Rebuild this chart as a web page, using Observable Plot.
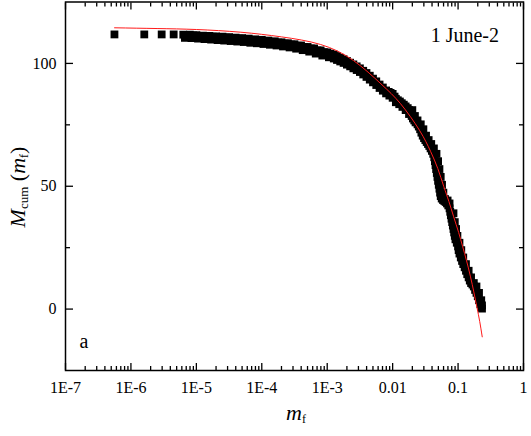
<!DOCTYPE html>
<html><head><meta charset="utf-8">
<script src="https://cdn.jsdelivr.net/npm/d3@7"></script>
<script src="https://cdn.jsdelivr.net/npm/@observablehq/plot@0.6"></script>
<style>body{margin:0;background:#fff}</style>
</head><body><div id="chart"></div>
<script>
// fragment masses m_f and cumulative mass M_cum(m_f)
const mf = [5.6e-7,1.6e-6,2.95e-6,4.5e-6,
6.31e-6,7.08e-6,7.94e-6,8.91e-6,1.0e-5,1.12e-5,1.26e-5,1.41e-5,1.58e-5,1.78e-5,2.0e-5,2.24e-5,2.51e-5,2.82e-5,3.16e-5,3.55e-5,3.98e-5,4.47e-5,5.01e-5,5.62e-5,6.31e-5,7.08e-5,7.94e-5,8.91e-5,
1.0e-4,1.12e-4,1.26e-4,1.41e-4,1.58e-4,1.78e-4,2.0e-4,2.24e-4,2.51e-4,2.82e-4,3.16e-4,3.55e-4,3.98e-4,4.47e-4,5.01e-4,5.62e-4,6.31e-4,7.08e-4,7.94e-4,8.91e-4,
1.0e-3,1.12e-3,1.26e-3,1.41e-3,1.58e-3,1.78e-3,2.0e-3,2.24e-3,2.51e-3,2.82e-3,3.16e-3,3.55e-3,3.98e-3,4.47e-3,5.01e-3,5.62e-3,6.31e-3,7.08e-3,7.94e-3,8.7e-3,9.3e-3,
1.0e-2,1.07e-2,1.12e-2,1.2e-2,1.29e-2,1.38e-2,1.48e-2,1.58e-2,1.7e-2,1.78e-2,1.86e-2,1.95e-2,2.04e-2,2.14e-2,2.24e-2,2.4e-2,
2.51e-2,2.63e-2,2.75e-2,2.88e-2,3.02e-2,3.16e-2,3.31e-2,3.47e-2,3.63e-2,3.8e-2,3.98e-2,4.17e-2,4.32e-2,4.42e-2,4.52e-2,4.62e-2,4.73e-2,4.84e-2,4.95e-2,5.07e-2,5.19e-2,5.31e-2,5.43e-2,5.62e-2,5.89e-2,6.17e-2,6.46e-2,6.76e-2,
7.08e-2,7.41e-2,7.59e-2,7.76e-2,7.94e-2,8.13e-2,8.32e-2,8.51e-2,8.71e-2,8.91e-2,9.12e-2,9.55e-2,
0.100,0.102,0.105,0.110,0.115,0.120,0.126,0.132,0.138,0.145,0.151,0.158,0.166,0.174,0.182,0.191,0.200,0.209,0.219,0.226,0.232,
// lower / right side of the band
6.68e-6,8.41e-6,1.06e-5,1.33e-5,1.68e-5,2.11e-5,2.66e-5,3.35e-5,4.22e-5,5.31e-5,6.68e-5,8.41e-5,
1.06e-4,1.33e-4,1.68e-4,2.11e-4,2.66e-4,3.35e-4,4.22e-4,5.31e-4,6.68e-4,8.41e-4,
1.06e-3,1.26e-3,1.41e-3,1.58e-3,1.78e-3,2.0e-3,2.24e-3,2.51e-3,2.82e-3,3.16e-3,3.55e-3,3.98e-3,4.47e-3,5.01e-3,5.62e-3,6.31e-3,7.08e-3,7.94e-3,8.91e-3,
1.0e-2,1.12e-2,1.26e-2,1.41e-2,1.58e-2,1.78e-2,2.0e-2,2.19e-2,2.4e-2,2.69e-2,2.95e-2,3.24e-2,3.55e-2,3.89e-2,4.27e-2,4.68e-2,4.95e-2,5.19e-2,5.43e-2,5.69e-2,5.96e-2,6.31e-2,6.92e-2,7.41e-2,
8.51e-2,8.91e-2,9.33e-2,9.77e-2,0.105,0.112,0.120,0.132,0.145,0.158,0.174,0.191,0.209,0.226,0.232];
const Mcum = [111.8,111.8,111.8,111.8,
111.7,111.5,111.7,111.4,111.5,111.2,111.3,111.0,111.2,110.9,111.0,110.7,110.9,110.5,110.7,110.3,110.5,110.1,110.3,109.9,110.1,109.6,109.8,109.4,
109.6,109.1,109.3,108.8,109.0,108.5,108.6,108.1,108.2,107.7,107.8,107.2,107.3,106.7,106.7,106.1,106.1,105.3,105.3,104.6,
104.5,104.0,103.6,103.0,102.3,101.7,101.0,100.3,99.6,98.8,98.0,97.0,96.1,95.0,93.8,92.7,91.4,90.2,89.0,88.4,88.0,
87.6,86.5,85.6,85.0,84.5,83.8,83.2,82.5,81.8,81.0,79.8,78.6,77.6,76.8,76.0,75.2,
74.3,73.2,71.8,70.6,69.6,68.8,68.0,67.2,66.4,65.4,64.4,63.2,61.8,60.2,58.6,57.0,55.4,53.8,52.2,50.6,49.0,47.4,46.0,45.0,44.4,44.0,43.6,43.0,
42.2,41.0,39.6,38.2,36.8,35.4,34.0,32.6,31.2,29.8,28.4,27.0,
25.5,24.0,22.6,21.0,19.6,18.3,17.0,15.6,14.2,12.9,11.6,10.6,10.0,9.2,7.8,6.6,5.2,3.6,2.0,0.9,0.2,
// lower / right side of the band
110.4,110.3,110.1,109.9,109.7,109.5,109.3,109.1,108.9,108.7,108.4,108.2,
107.9,107.6,107.3,106.9,106.5,106.0,105.4,104.8,104.0,103.2,
102.5,102.0,101.4,100.8,100.2,99.5,98.8,98.0,97.3,96.5,95.5,94.5,93.4,92.3,91.2,90.0,88.9,87.8,86.9,
86.0,84.2,83.4,82.3,81.0,79.4,81.0,78.6,76.8,75.2,73.2,70.6,68.8,67.2,65.4,63.2,60.2,57.0,53.8,50.6,47.4,44.8,44.2,43.0,
39.0,35.4,32.6,29.8,27.0,24.0,21.0,18.3,15.6,12.9,10.6,9.2,6.6,3.6,1.5];

// fitted curve (red)
const fitMf = [5.62e-7,2.51e-6,1.0e-5,4.79e-5,2.0e-4,7.94e-4,2.51e-3,6.61e-3,0.0132,0.0257,0.038,0.049,0.0603,0.0724,0.0851,0.102,0.117,0.135,0.155,0.174,0.195,0.214,0.234];
const fitM  = [114.5,114.2,113.8,112.7,110.8,107.7,101.2,91.7,83.6,72.8,64.2,57.2,50.0,43.8,37.8,31.2,25.6,19.6,13.1,7.0,0.5,-5.0,-11.3];

// axes
const xMajor = [1e-7,1e-6,1e-5,1e-4,1e-3,1e-2,1e-1,1];
const xMajorLabels = ["1E-7","1E-6","1E-5","1E-4","1E-3","0.01","0.1","1"];
const yMajor = [0,50,100];
const yMinor = [25,75];

const xMinor = d3.range(-7,0).flatMap(e => d3.range(2,10).map(k => k*Math.pow(10,e)));
const labelMap = new Map(xMajor.map((d,i)=>[d, xMajorLabels[i]]));

const points = mf.map((x,i)=>({x, y:Mcum[i]}));
const fit = fitMf.map((x,i)=>({x, y:fitM[i]}));

const font = "'Liberation Serif', 'Times New Roman', serif";
const plot = Plot.plot({
  width: 531, height: 436,
  marginLeft: 65, marginRight: 8, marginTop: 1.5, marginBottom: 66,
  style: {fontFamily: font, fontSize: "16px", color: "#000", background: "#fff", overflow: "visible"},
  x: {type: "log", domain: [1e-7, 1]},
  y: {domain: [-25, 125]},
  marks: [
    Plot.dot(points, {x: "x", y: "y", symbol: "square", r: 4.4, fill: "#000", stroke: null}),
    Plot.line(fit, {x: "x", y: "y", stroke: "#ff1a1a", strokeWidth: 1, curve: "natural"}),
    Plot.frame({stroke: "#000", strokeWidth: 1.5}),
    Plot.axisX(xMajor, {anchor: "bottom", tickSize: -7, text: null, label: null, strokeWidth: 1.3}),
    Plot.axisX(xMajor, {anchor: "top", tickSize: -7, text: null, label: null, strokeWidth: 1.3}),
    Plot.axisX(xMinor, {anchor: "bottom", tickSize: -4, text: null, label: null, strokeWidth: 1.3}),
    Plot.axisX(xMinor, {anchor: "top", tickSize: -4, text: null, label: null, strokeWidth: 1.3}),
    Plot.axisX(xMajor, {anchor: "bottom", tickSize: 0, tickPadding: 11, tickFormat: d => labelMap.get(d), label: null}),
    Plot.axisY(yMajor, {anchor: "left", tickSize: -8, text: null, label: null, strokeWidth: 1.3}),
    Plot.axisY(yMajor, {anchor: "right", tickSize: -8, text: null, label: null, strokeWidth: 1.3}),
    Plot.axisY(yMinor, {anchor: "left", tickSize: -5, text: null, label: null, strokeWidth: 1.3}),
    Plot.axisY(yMinor, {anchor: "right", tickSize: -5, text: null, label: null, strokeWidth: 1.3}),
    Plot.axisY(yMajor, {anchor: "left", tickSize: 0, tickPadding: 9, label: null})
  ]
});
document.getElementById("chart").appendChild(plot);

const svg = d3.select(plot);
// y label
const yl = svg.append("text")
  .attr("transform", "translate(25,187) rotate(-90)")
  .attr("text-anchor", "middle")
  .attr("font-family", font).attr("font-size", 22).attr("fill", "#000");
yl.append("tspan").attr("font-style", "italic").text("M");
yl.append("tspan").attr("font-size", 13).attr("dy", 3).text("cum");
yl.append("tspan").attr("dy", -3).text(" (");
yl.append("tspan").attr("font-style", "italic").text("m");
yl.append("tspan").attr("font-size", 12).attr("dy", 3).text("f");
yl.append("tspan").attr("dy", -3).text(")");
// x label
const xl = svg.append("text")
  .attr("x", 296).attr("y", 420)
  .attr("text-anchor", "middle")
  .attr("font-family", font).attr("font-size", 22).attr("fill", "#000");
xl.append("tspan").attr("font-style", "italic").text("m");
xl.append("tspan").attr("font-size", 12).attr("dy", 3).text("f");
// annotations
svg.append("text").attr("x", 499).attr("y", 42).attr("text-anchor", "end")
  .attr("font-family", font).attr("font-size", 20).attr("fill", "#000").text("1 June-2");
svg.append("text").attr("x", 84).attr("y", 348)
  .attr("font-family", font).attr("font-size", 20).attr("fill", "#000").text("a");
</script>
</body></html>
